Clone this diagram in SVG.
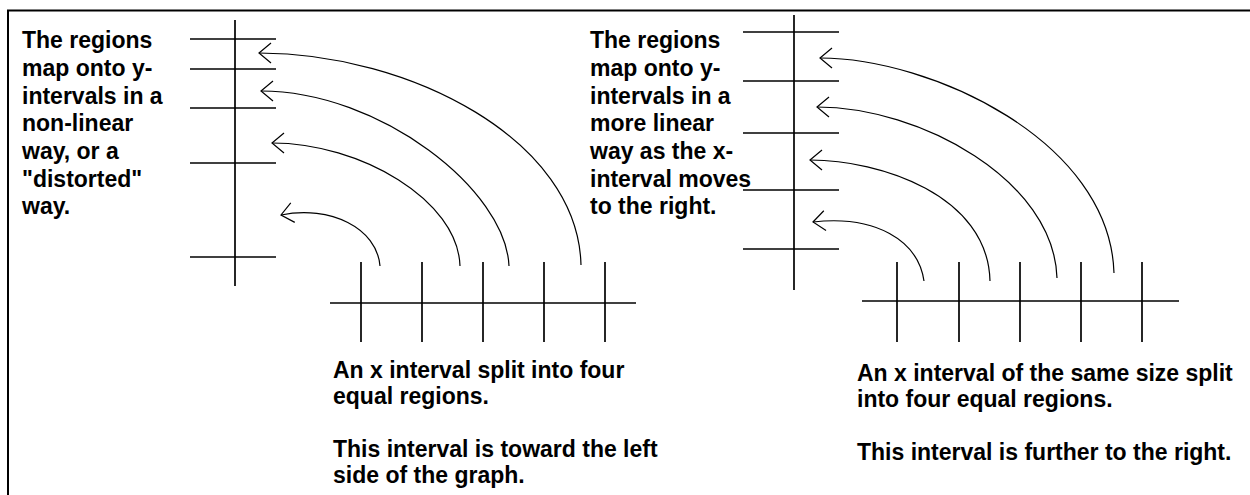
<svg xmlns="http://www.w3.org/2000/svg" width="1250" height="495" viewBox="0 0 1250 495">
<style>
.ax{stroke:#000;stroke-width:1.7;fill:none}
.arc{stroke:#000;stroke-width:1.2;fill:none;marker-end:url(#chev)}
.t{font-family:"Liberation Sans",Arial,sans-serif;font-weight:bold;font-size:23px;fill:#000}
</style>
<defs>
<marker id="chev" markerUnits="userSpaceOnUse" markerWidth="30" markerHeight="30" viewBox="-15 -15 30 30" refX="0" refY="0" orient="auto" overflow="visible">
<path d="M-12,-10 L0,0 L-12,10" stroke="#000" stroke-width="1.2" fill="none"/>
</marker>
</defs>
<rect width="1250" height="495" fill="#fff"/>
<path d="M8,495 V10.5 H1250" stroke="#000" stroke-width="2" fill="none"/>

<g id="left-y-axis" class="ax">
<line x1="235" y1="20" x2="235" y2="286"/>
<line x1="190" y1="39" x2="276" y2="39"/>
<line x1="190" y1="69" x2="276" y2="69"/>
<line x1="190" y1="108" x2="276" y2="108"/>
<line x1="190" y1="163" x2="276" y2="163"/>
<line x1="190" y1="257" x2="276" y2="257"/>
</g>
<g id="left-x-axis" class="ax">
<line x1="330" y1="303" x2="636" y2="303"/>
<line x1="361" y1="262" x2="361" y2="342"/>
<line x1="422" y1="262" x2="422" y2="342"/>
<line x1="483" y1="262" x2="483" y2="342"/>
<line x1="544" y1="262" x2="544" y2="342"/>
<line x1="605" y1="262" x2="605" y2="342"/>
</g>
<g id="right-y-axis" class="ax">
<line x1="794" y1="15" x2="794" y2="290"/>
<line x1="743" y1="32" x2="839" y2="32"/>
<line x1="743" y1="81" x2="839" y2="81"/>
<line x1="743" y1="133" x2="839" y2="133"/>
<line x1="743" y1="190" x2="839" y2="190"/>
<line x1="743" y1="249" x2="839" y2="249"/>
</g>
<g id="right-x-axis" class="ax">
<line x1="862" y1="301" x2="1179" y2="301"/>
<line x1="897" y1="262" x2="897" y2="342"/>
<line x1="959" y1="262" x2="959" y2="342"/>
<line x1="1020" y1="262" x2="1020" y2="342"/>
<line x1="1081" y1="262" x2="1081" y2="342"/>
<line x1="1142" y1="262" x2="1142" y2="342"/>
</g>

<g id="connectors">
<path class="arc" d="M581,265 C578,140 410,53 259,53"/>
<path class="arc" d="M509,266 C506,190 380,91 261,91"/>
<path class="arc" d="M460,266 C458,200 360,143 272,143"/>
<path class="arc" d="M380,266 C377,228 330,205 281,215"/>
<path class="arc" d="M1114,273 C1110,140 930,58 820,58"/>
<path class="arc" d="M1057,278 C1054,180 920,107 817,107"/>
<path class="arc" d="M990,281 C988,195 880,160 810,160"/>
<path class="arc" d="M924,281 C918,240 875,215 813,222"/>
</g>

<g id="text-left">
<text class="t" x="22" y="48">The regions</text>
<text class="t" x="22" y="76">map onto y-</text>
<text class="t" x="22" y="104">intervals in a</text>
<text class="t" x="22" y="131">non-linear</text>
<text class="t" x="22" y="159">way, or a</text>
<text class="t" x="22" y="187">"distorted"</text>
<text class="t" x="22" y="214">way.</text>
</g>
<g id="text-middle">
<text class="t" x="590" y="48">The regions</text>
<text class="t" x="590" y="76">map onto y-</text>
<text class="t" x="590" y="104">intervals in a</text>
<text class="t" x="590" y="131">more linear</text>
<text class="t" x="590" y="159">way as the x-</text>
<text class="t" x="590" y="187">interval moves</text>
<text class="t" x="590" y="214">to the right.</text>
</g>
<g id="text-bottom-left">
<text class="t" x="333" y="378">An x interval split into four</text>
<text class="t" x="333" y="404">equal regions.</text>
<text class="t" x="333" y="457">This interval is toward the left</text>
<text class="t" x="333" y="483">side of the graph.</text>
</g>
<g id="text-bottom-right">
<text class="t" x="857" y="381">An x interval of the same size split</text>
<text class="t" x="857" y="407">into four equal regions.</text>
<text class="t" x="857" y="460">This interval is further to the right.</text>
</g>
</svg>
